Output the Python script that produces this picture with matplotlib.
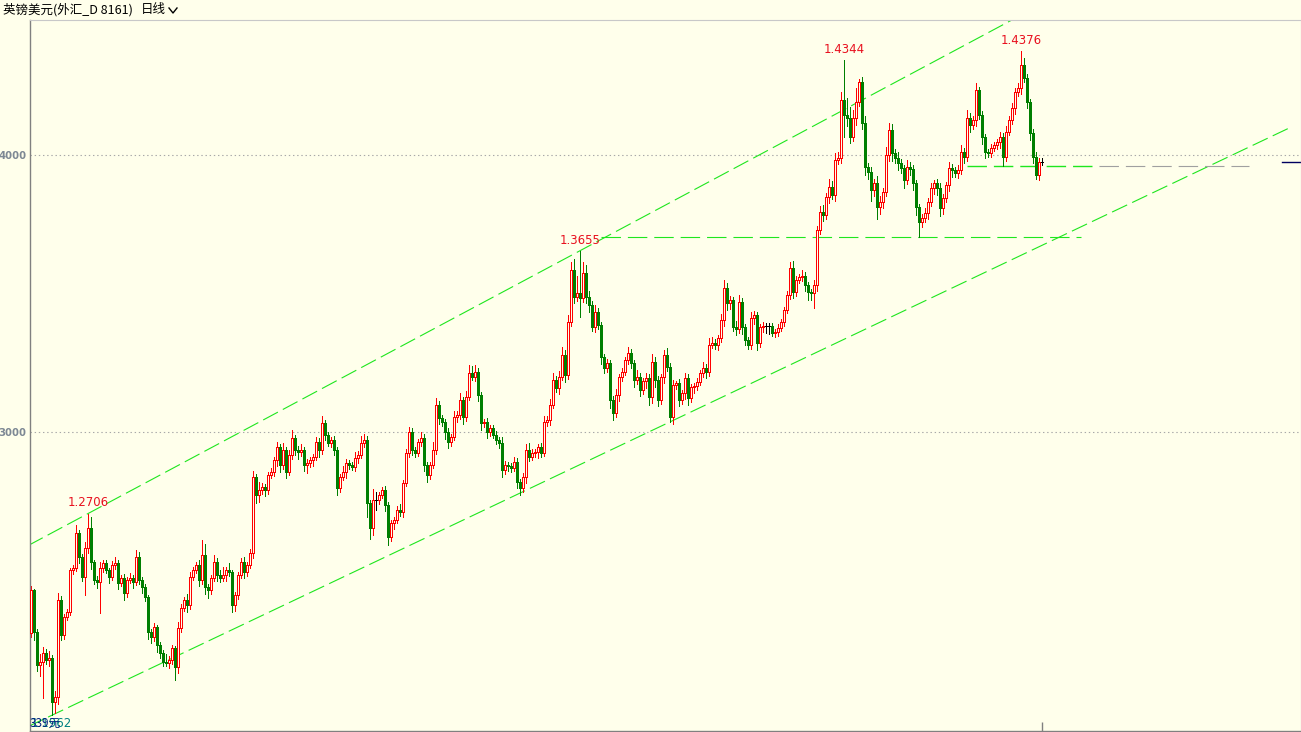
import matplotlib
matplotlib.use("Agg")
import matplotlib.pyplot as plt
from matplotlib.patches import Rectangle

# -----------------------------------------------------
# Data (GBP/USD daily, prices in pips = price * 10000)
# -----------------------------------------------------
first_open = 12275
closes = [
    12430, 12278, 12159, 12170, 12203, 12177, 12185, 12026, 12044, 12394,
    12268, 12333, 12351, 12502, 12510, 12636, 12549, 12477, 12582, 12654,
    12531, 12466, 12459, 12510, 12528, 12502, 12477, 12520, 12528, 12455,
    12473, 12419, 12466, 12473, 12459, 12549, 12466, 12441, 12405, 12278,
    12260, 12297, 12232, 12203, 12170, 12168, 12177, 12221, 12152, 12293,
    12365, 12394, 12376, 12477, 12502, 12520, 12466, 12556, 12441, 12430,
    12473, 12531, 12484, 12473, 12484, 12502, 12495, 12376, 12412, 12484,
    12531, 12495, 12520, 12564, 12838, 12773, 12791, 12802, 12791, 12845,
    12856, 12899, 12946, 12881, 12936, 12856, 12917, 12979, 12936, 12928,
    12936, 12881, 12889, 12899, 12910, 12964, 12936, 13033, 12990, 12961,
    12972, 12936, 12798, 12838, 12856, 12889, 12881, 12874, 12907, 12917,
    12961, 12972, 12744, 12654, 12755, 12755, 12773, 12791, 12737, 12621,
    12672, 12683, 12719, 12712, 12816, 12925, 13000, 12936, 12925, 12964,
    12979, 12881, 12845, 12881, 12936, 13098, 13051, 13037, 13000, 12964,
    12982, 13055, 13062, 13116, 13055, 13127, 13213, 13199, 13217, 13134,
    13033, 13037, 13000, 13015, 12990, 12972, 12961, 12863, 12881, 12878,
    12870, 12892, 12820, 12798, 12838, 12936, 12910, 12925, 12928, 12946,
    12925, 13037, 13044, 13098, 13188, 13159, 13199, 13278, 13206, 13398,
    13585, 13488, 13502, 13484, 13574, 13488, 13459, 13380, 13434, 13387,
    13271, 13232, 13250, 13116, 13069, 13134, 13199, 13217, 13260, 13286,
    13250, 13188, 13199, 13152, 13185, 13195, 13127, 13253, 13188, 13116,
    13199, 13278, 13235, 13055, 13170, 13176, 13116, 13141, 13195, 13123,
    13163, 13167, 13181, 13213, 13232, 13217, 13315, 13322, 13315, 13340,
    13405, 13520, 13466, 13478, 13380, 13372, 13470, 13380, 13333, 13315,
    13412, 13423, 13322, 13380, 13383, 13383, 13383, 13358, 13362, 13376,
    13398, 13441, 13495, 13593, 13506, 13549, 13560, 13564, 13531, 13506,
    13502, 13531, 13730, 13795, 13784, 13849, 13885, 13856, 13982, 13990,
    14199, 14145, 14134, 14065, 14134, 14192, 14264, 14116, 13957, 13939,
    13874, 13899, 13813, 13831, 13867, 14000, 14091, 14008, 13990, 13972,
    13954, 13910, 13957, 13950, 13899, 13813, 13759, 13773, 13791, 13831,
    13881, 13899, 13881, 13809, 13845, 13892, 13954, 13946, 13936, 13946,
    14011, 13993, 14134, 14109, 14127, 14235, 14145, 14065, 14011, 14008,
    14026, 14037, 14047, 14065, 13993, 14084, 14127, 14170, 14228, 14242,
    14325, 14278, 14192, 14080, 13993, 13930, 13975, 13975,
]
up_wick = [
    15, 5, 10, 30, 20, 15, 25, 10, 20, 25, 15, 10, 12, 8, 10, 30, 12, 10, 20, 52,
    40, 8, 15, 20, 12, 10, 8, 15, 20, 10, 12, 15, 10, 20, 12, 25, 18, 10, 12, 8,
    10, 15, 8, 10, 12, 30, 15, 10, 8, 20, 15, 10, 20, 18, 10, 12, 20, 55, 40, 10,
    12, 25, 15, 20, 30, 10, 25, 8, 12, 10, 15, 20, 10, 15, 20, 12, 30, 15, 10, 12,
    15, 10, 20, 12, 25, 10, 20, 30, 12, 15, 20, 10, 15, 12, 10, 20, 15, 25, 10, 12,
    10, 15, 12, 10, 20, 15, 10, 12, 20, 15, 25, 20, 15, 10, 40, 30, 12, 10, 15, 10,
    12, 10, 15, 20, 12, 15, 20, 15, 10, 12, 20, 15, 10, 12, 30, 25, 15, 10, 12, 15,
    10, 20, 15, 25, 10, 20, 30, 25, 25, 15, 10, 12, 15, 10, 12, 15, 10, 20, 15, 12,
    10, 20, 15, 12, 15, 20, 25, 15, 10, 12, 15, 20, 15, 20, 25, 15, 20, 30, 20, 25,
    30, 40, 60, 153, 40, 30, 20, 15, 25, 15, 10, 12, 15, 10, 15, 20, 12, 15, 10, 20,
    15, 10, 25, 15, 12, 20, 15, 30, 20, 15, 10, 20, 25, 15, 20, 10, 15, 12, 20, 15,
    10, 12, 15, 10, 20, 15, 25, 20, 15, 12, 20, 29, 20, 15, 10, 20, 25, 15, 10, 12,
    20, 15, 10, 12, 15, 10, 10, 12, 10, 15, 10, 12, 15, 20, 25, 15, 10, 20, 15, 12,
    10, 20, 15, 20, 25, 15, 30, 20, 25, 20, 30, 145, 60, 40, 30, 50, 10, 20, 25, 15,
    20, 15, 25, 20, 15, 30, 25, 20, 15, 20, 15, 12, 25, 20, 15, 10, 12, 15, 20, 15,
    20, 12, 15, 20, 15, 12, 20, 15, 12, 20, 25, 15, 30, 20, 15, 25, 10, 15, 12, 10,
    15, 12, 10, 20, 15, 20, 15, 20, 15, 20, 51, 25, 15, 12, 15, 20, 15, 15,
]
dn_wick = [
    15, 30, 20, 40, 130, 15, 20, 48, 40, 25, 20, 15, 10, 12, 15, 10, 20, 15, 65, 20,
    25, 15, 20, 112, 15, 10, 20, 12, 15, 20, 10, 25, 15, 10, 20, 12, 15, 20, 15, 25,
    20, 15, 25, 20, 15, 12, 20, 15, 47, 20, 15, 10, 25, 15, 12, 10, 20, 15, 25, 30,
    15, 10, 20, 15, 12, 20, 15, 25, 20, 15, 10, 20, 15, 12, 20, 30, 25, 15, 20, 15,
    12, 15, 20, 25, 15, 20, 12, 15, 20, 25, 15, 20, 30, 15, 20, 12, 25, 15, 20, 10,
    15, 20, 25, 15, 12, 20, 15, 10, 15, 20, 12, 15, 50, 40, 25, 35, 15, 12, 20, 28,
    15, 20, 12, 15, 20, 12, 15, 20, 15, 10, 15, 20, 25, 15, 12, 15, 20, 15, 25, 20,
    15, 12, 20, 15, 25, 15, 12, 10, 15, 20, 25, 15, 20, 15, 12, 15, 20, 25, 15, 20,
    15, 12, 20, 25, 15, 20, 15, 12, 15, 20, 15, 12, 15, 20, 12, 15, 20, 12, 25, 15,
    15, 20, 15, 70, 15, 20, 25, 15, 20, 15, 25, 20, 15, 30, 25, 15, 20, 15, 12, 15,
    20, 25, 15, 20, 15, 25, 30, 20, 25, 20, 15, 20, 15, 18, 25, 15, 20, 15, 20, 25,
    15, 20, 15, 12, 15, 20, 15, 12, 15, 20, 15, 20, 25, 20, 15, 20, 15, 25, 20, 15,
    15, 20, 25, 15, 20, 25, 30, 12, 15, 15, 12, 15, 12, 15, 20, 15, 12, 15, 20, 30,
    25, 54, 20, 15, 20, 15, 20, 15, 20, 15, 20, 80, 30, 20, 15, 25, 15, 20, 30, 25,
    40, 20, 45, 25, 20, 15, 20, 30, 20, 25, 20, 30, 15, 20, 25, 30, 55, 20, 15, 20,
    15, 20, 25, 30, 20, 15, 20, 25, 15, 20, 15, 20, 15, 25, 15, 20, 15, 25, 20, 15,
    15, 12, 15, 20, 32, 15, 12, 15, 20, 15, 20, 15, 20, 25, 20, 15, 20, 10,
]

title_text = "英镑美元(外汇_D 8161)"
period_text = "日线"
grid_levels = [1.3, 1.4]
grid_labels = ["3000", "4000"]
labelled_highs = [19, 183, 271, 330]     # candles with a price tag
upper_anchor = (19, 183)                  # channel: two highs
lower_anchor = (7, 213)                   # channel: two lows
level_a = (296, 190, 350)                 # low of candle 296, drawn from 190 to 350
level_b = (324, 312, 356, 406)            # low of candle 324, green then grey

# -----------------------------------------------------
# Build OHLC
# -----------------------------------------------------
n = min(len(closes), len(up_wick), len(dn_wick))
opens, highs, lows = [], [], []
prev = first_open
for i in range(n):
    o, c = prev, closes[i]
    opens.append(o)
    highs.append(max(o, c) + up_wick[i])
    lows.append(min(o, c) - dn_wick[i])
    prev = c
opens = [v / 10000 for v in opens]
cl = [v / 10000 for v in closes[:n]]
highs = [v / 10000 for v in highs]
lows = [v / 10000 for v in lows]

# -----------------------------------------------------
# Figure
# -----------------------------------------------------
BG = "#ffffeb"
RED = "#ff0000"
GREEN = "#007f00"
LIME = "#1ee61e"
plt.rcParams["font.family"] = ["Noto Sans CJK SC", "DejaVu Sans"]
plt.rcParams["lines.scale_dashes"] = False

W, H = 1301, 732
fig = plt.figure(figsize=(W / 100, H / 100), dpi=100, facecolor=BG)
ax = fig.add_axes([30 / W, 1 / H, 1 - 30 / W, (731 - 20) / H], facecolor=BG)

px = 3.0  # candle spacing in pixels
ax.set_xlim(-1 / px, -1 / px + (W - 30) / px)
ax.set_ylim(1.1921, 1.4488)

for lv in grid_levels:
    ax.axhline(lv, color="#a8a8a8", lw=0.8, ls=(0, (1, 2)), zorder=0)

bw = 0.67
for i in range(n):
    o, c, h, l = opens[i], cl[i], highs[i], lows[i]
    if c > o:
        col = RED
    elif c < o:
        col = GREEN
    else:
        col = "black"
    ax.vlines(i, l, h, color=col, lw=0.72, zorder=2, antialiased=False)
    if c == o:
        ax.hlines(o, i - bw / 2, i + bw / 2, color=col, lw=0.72,
                  zorder=3, antialiased=False)
    else:
        face = BG if c > o else GREEN
        ax.add_patch(Rectangle((i - bw / 2, min(o, c)), bw, abs(c - o),
                               facecolor=face, edgecolor=col, lw=0.72,
                               zorder=3, antialiased=False))

# channel lines
dash = (0, (12, 4))
a, b = upper_anchor
slope = (highs[b] - highs[a]) / (b - a)
xs = [-1, 420]
ax.plot(xs, [highs[a] + slope * (x - a) for x in xs], color=LIME, lw=0.8,
        ls=dash, zorder=1)
a, b = lower_anchor
slope = (lows[b] - lows[a]) / (b - a)
ax.plot(xs, [lows[a] + slope * (x - a) for x in xs], color=LIME, lw=0.8,
        ls=dash, zorder=1)

# horizontal levels
k, x0, x1 = level_a
ax.plot([x0, x1], [lows[k]] * 2, color=LIME, lw=0.8, ls=(0, (14, 5)), zorder=1)
k, x0, x1, x2 = level_b
ax.plot([x0, x1], [lows[k]] * 2, color=LIME, lw=1.0, ls=(0, (14, 5)), zorder=1)
ax.plot([x1, x2], [lows[k]] * 2, color="#a0a0a0", lw=0.8, ls=(0, (14, 5)), zorder=1)

# price tags
for k in labelled_highs:
    ax.annotate(f"{highs[k]:.4f}", (k, highs[k]), xytext=(0, 3),
                textcoords="offset points", ha="center", va="bottom",
                color="#e8101e", fontsize=8.5, family="DejaVu Sans")

# bottom-left labels (they overlap in the original too)
ax.text(0, 1.1948, "1.1962", color="#008080", fontsize=8.5, family="DejaVu Sans",
        va="center", ha="left")
ax.text(-0.3, 1.1950, "339元", color="#00207f", fontsize=8.5, va="center", ha="left")

# last price marker on the right
ax.plot([417, 424], [cl[-1]] * 2, color="#000060", lw=1.0, clip_on=False)

# axes styling
for s in ["top", "right"]:
    ax.spines[s].set_color("#c8c8c8")
    ax.spines[s].set_linewidth(0.8)
for s in ["left", "bottom"]:
    ax.spines[s].set_color("#808080")
    ax.spines[s].set_linewidth(1.0)
ax.set_yticks(grid_levels)
ax.set_yticklabels(grid_labels, color="#7d8894", fontsize=7.3, fontweight="bold",
                   family="DejaVu Sans")
ax.tick_params(axis="y", length=0, pad=2.5)
ax.set_xticks([n - 1])
ax.set_xticklabels([""])
ax.tick_params(axis="x", direction="in", length=6.5, color="#808080", width=1)

# header
fig.text(3 / W, 1 - 10 / H, title_text, fontsize=9, va="center", ha="left")
fig.text(141 / W, 1 - 10 / H, period_text, fontsize=9, va="center", ha="left")
fig.lines.append(plt.Line2D([169 / W, 173 / W, 177 / W],
                            [1 - 8 / H, 1 - 13 / H, 1 - 8 / H],
                            transform=fig.transFigure, color="black", lw=1.0))

fig.savefig("out.png", dpi=100, facecolor=BG)
